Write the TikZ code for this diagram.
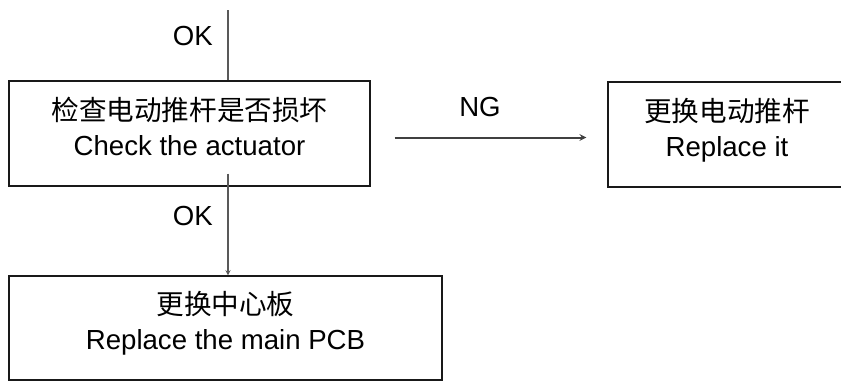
\documentclass[tikz,border=0pt]{standalone}
\usepackage{fontspec}
\setmainfont{Liberation Sans}
\newfontfamily\cjk{Noto Sans CJK SC}
\usetikzlibrary{arrows}

\begin{document}
\begin{tikzpicture}[x=1pt, y=-1pt, ->, >=stealth, flow box/.style={draw=black!90, line width=1.3pt, inner sep=0pt}, box text/.style={font=\fontsize{27.6}{35}\selectfont, align=center, inner sep=0pt, anchor=north}, link label/.style={font=\fontsize{27.6}{33}\selectfont, inner sep=0pt}, link/.style={draw=black!65, line width=1.3pt}]
\useasboundingbox (0,0) rectangle (841,381);

\node [flow box, minimum width=361pt, minimum height=105pt] (check) at (189.5,133.5) {};
\node [box text] (checktxt) at ([yshift=-17pt]check.north) {{\cjk 检查电动推杆是否损坏}\\Check the actuator};

\node [flow box, minimum width=238pt, minimum height=105pt] (swap) at (727,134.5) {};
\node [box text] (swaptxt) at ([yshift=-17pt]swap.north) {{\cjk 更换电动推杆}\\Replace it};

\node [flow box, minimum width=433pt, minimum height=104pt] (pcb) at (225.5,328) {};
\node [box text] (pcbtxt) at ([yshift=-16pt]pcb.north) {{\cjk 更换中心板}\\Replace the main PCB};

\coordinate (entry) at (228,10);
\draw [link, -] (entry) -- (entry |- check.north);
\node [link label, anchor=east] (ok1) at (213,36) {OK};

\draw [link] ([yshift=13pt]check.south -| entry) -- (entry |- pcb.north);
\node [link label, anchor=east] (ok2) at (213,216) {OK};

\draw [link, line width=2pt, draw=black!75, shorten <=24pt, shorten >=21pt] ([yshift=-4pt]check.east) -- ([yshift=-4pt]check.east -| swap.west);
\node [link label] (ng) at (480,107) {NG};
\end{tikzpicture}
\end{document}
